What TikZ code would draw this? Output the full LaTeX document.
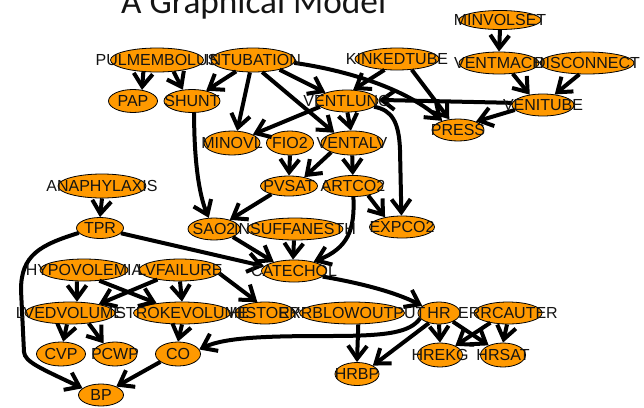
\documentclass[tikz,border=0pt]{standalone}
\usepackage{fontspec}
\setmainfont{Liberation Sans}
\newfontfamily\titlefont{Carlito}
\usetikzlibrary{arrows.meta,shapes.geometric}
\definecolor{nodefill}{RGB}{255,153,0}
\definecolor{ink}{RGB}{20,20,20}
\begin{document}
\begin{tikzpicture}[x=1pt,y=-1pt,
  vnode/.style={ellipse,draw=black,line width=0.8pt,fill=nodefill,inner sep=0pt},
  vtext/.style={font=\fontsize{16}{16}\selectfont,text=ink,inner sep=0pt},
  edge/.style={line width=4pt,draw=black,-{Straight Barb[length=13pt,width=19pt]}},
  ttl/.style={font=\titlefont\fontsize{35.3}{40}\selectfont,text=ink,inner sep=0pt,anchor=base west}
]
\useasboundingbox (0,0) rectangle (644,407);
\clip (0,0) rectangle (644,407);

\node[ttl] (title) at (121,13) {A Graphical Model};

% variables of the network
\node[vnode,minimum width=82pt,minimum height=19pt] (minv)   at (500,20)  {};
\node[vnode,minimum width=93pt,minimum height=24pt] (pulm)   at (157,60)  {};
\node[vnode,minimum width=84pt,minimum height=24pt] (intub)  at (253,60)  {};
\node[vnode,minimum width=84pt,minimum height=22pt] (kinked) at (397,59)  {};
\node[vnode,minimum width=80pt,minimum height=22pt] (vmach)  at (499,63)  {};
\node[vnode,minimum width=94pt,minimum height=22pt] (disc)   at (587,63)  {};
\node[vnode,minimum width=49pt,minimum height=23pt] (pap)    at (133,101) {};
\node[vnode,minimum width=56pt,minimum height=23pt] (shunt)  at (192,101) {};
\node[vnode,minimum width=62pt,minimum height=22pt] (vlung)  at (347,101) {};
\node[vnode,minimum width=62pt,minimum height=22pt] (vtube)  at (543,105) {};
\node[vnode,minimum width=52pt,minimum height=22pt] (press)  at (458,130) {};
\node[vnode,minimum width=56pt,minimum height=24pt] (minvol) at (232,143) {};
\node[vnode,minimum width=47pt,minimum height=24pt] (fio)    at (290,143) {};
\node[vnode,minimum width=62pt,minimum height=24pt] (valv)   at (352,143) {};
\node[vnode,minimum width=88pt,minimum height=24pt] (anaph)  at (102,186) {};
\node[vnode,minimum width=57pt,minimum height=20pt] (pvsat)  at (289,186) {};
\node[vnode,minimum width=60pt,minimum height=21pt] (artco)  at (353,186) {};
\node[vnode,minimum width=47pt,minimum height=21pt] (tpr)    at (100,228) {};
\node[vnode,minimum width=52pt,minimum height=22pt] (sao)    at (214,229) {};
\node[vnode,minimum width=96pt,minimum height=22pt] (insuff) at (295,229) {};
\node[vnode,minimum width=65pt,minimum height=22pt] (expco)  at (402,227) {};
\node[vnode,minimum width=88pt,minimum height=22pt] (hypo)   at (84,270)  {};
\node[vnode,minimum width=82pt,minimum height=22pt] (lvf)    at (180,270) {};
\node[vnode,minimum width=65pt,minimum height=22pt] (cate)   at (294,271) {};
\node[vnode,minimum width=90pt,minimum height=22pt] (lved)   at (70,313)  {};
\node[vnode,minimum width=97pt,minimum height=22pt] (stroke) at (182,313) {};
\node[vnode,minimum width=60pt,minimum height=22pt] (hist)   at (265,313) {};
\node[vnode,minimum width=105pt,minimum height=22pt] (errlow) at (352,313) {};
\node[vnode,minimum width=42pt,minimum height=22pt] (hr)     at (439,313) {};
\node[vnode,minimum width=68pt,minimum height=22pt] (errcau) at (508,313) {};
\node[vnode,minimum width=49pt,minimum height=24pt] (cvp)    at (61,354)  {};
\node[vnode,minimum width=44pt,minimum height=24pt] (pcwp)   at (115,354) {};
\node[vnode,minimum width=45pt,minimum height=24pt] (co)     at (178,354) {};
\node[vnode,minimum width=45pt,minimum height=24pt] (hrekg)  at (440,355) {};
\node[vnode,minimum width=45pt,minimum height=24pt] (hrsat)  at (503,355) {};
\node[vnode,minimum width=45pt,minimum height=22pt] (bp)     at (101,395) {};
\node[vnode,minimum width=44pt,minimum height=23pt] (hrbp)   at (357,374) {};

% dependencies
\draw[edge] (minv.south) -- (vmach.north);
\draw[edge] (vmach.-38) -- (vtube.142);
\draw[edge] (disc.236) -- (vtube.42);
\draw[edge] (vtube.190) -- (press.25);
\draw[edge] (vtube.176) -- (vlung.2);
\draw[edge] (kinked.221) -- (vlung.61);
\draw[edge] (kinked.-36) -- (press.129);
\draw[edge] (intub.-20) -- (vlung.159);
\draw[edge] (intub.214) -- (shunt.36);
\draw[edge] (intub.256) -- (minvol.67);
\draw[edge] (intub.-53) -- (valv.150);
\draw[edge] (intub.-4) .. controls (345,70) and (405,88) .. (press.150);
\draw[edge] (pulm.221) -- (pap.51);
\draw[edge] (pulm.-35) -- (shunt.129);
\draw[edge] (vlung.192) -- (minvol.22);
\draw[edge] (vlung.-88) -- (valv.95);
\draw[edge] (vlung.-12) .. controls (392,110) and (399,122) .. (400,150) -- (expco.93);
\draw[edge] (valv.204) -- (pvsat.30);
\draw[edge] (valv.-89) -- (artco.91);
\draw[edge] (fio.south) -- (pvsat.north);
\draw[edge] (pvsat.205) -- (sao.30);
\draw[edge] (shunt.-80) .. controls (194,160) and (199,195) .. (sao.115);
\draw[edge] (artco.-32) -- (expco.150);
\draw[edge] (artco.-88) .. controls (355,230) and (348,248) .. (cate.25);
\draw[edge] (sao.-23) -- (cate.156);
\draw[edge] (insuff.-95) -- (cate.95);
\draw[edge] (tpr.-14) -- (cate.171);
\draw[edge] (tpr.193) .. controls (40,245) and (21,255) .. (21,290) -- (24,352) .. controls (25,362) and (40,368) .. (bp.160);
\draw[edge] (anaph.south) -- (tpr.north);
\draw[edge] (cate.-11) .. controls (360,283) and (395,292) .. (hr.157);
\draw[edge] (hr.225) -- (hrbp.28);
\draw[edge] (hr.south) -- (hrekg.north);
\draw[edge] (hr.-32) -- (hrsat.146);
\draw[edge] (hr.196) .. controls (410,332) and (390,336) .. (330,336) .. controls (270,336) and (225,337) .. (co.12);
\draw[edge] (errcau.209) -- (hrekg.31);
\draw[edge] (errcau.-95) -- (hrsat.north);
\draw[edge] (errlow.-61) -- (hrbp.north);
\draw[edge] (hypo.238) -- (lved.58);
\draw[edge] (hypo.-35) -- (stroke.159);
\draw[edge] (lvf.203) -- (lved.17);
\draw[edge] (lvf.south) -- (stroke.north);
\draw[edge] (lvf.-5) -- (hist.125);
\draw[edge] (lved.255) -- (cvp.80);
\draw[edge] (lved.-29) -- (pcwp.137);
\draw[edge] (stroke.south) -- (co.north);
\draw[edge] (co.204) -- (bp.29);

% names of the variables
\node[vtext] (minv-t)   at (minv)   {MINVOLSET};
\node[vtext] (pulm-t)   at (pulm)   {PULMEMBOLUS};
\node[vtext] (intub-t)  at (intub)  {INTUBATION};
\node[vtext] (kinked-t) at (kinked) {KINKEDTUBE};
\node[vtext] (vmach-t)  at (vmach)  {VENTMACH};
\node[vtext] (disc-t)   at (disc)   {DISCONNECT};
\node[vtext] (pap-t)    at (pap)    {PAP};
\node[vtext] (shunt-t)  at (shunt)  {SHUNT};
\node[vtext] (vlung-t)  at (vlung)  {VENTLUNG};
\node[vtext] (vtube-t)  at (vtube)  {VENITUBE};
\node[vtext] (press-t)  at (press)  {PRESS};
\node[vtext] (minvol-t) at (minvol) {MINOVL};
\node[vtext] (fio-t)    at (fio)    {FIO2};
\node[vtext] (valv-t)   at (valv)   {VENTALV};
\node[vtext] (anaph-t)  at (anaph)  {ANAPHYLAXIS};
\node[vtext] (pvsat-t)  at (pvsat)  {PVSAT};
\node[vtext] (artco-t)  at (artco)  {ARTCO2};
\node[vtext] (tpr-t)    at (tpr)    {TPR};
\node[vtext] (sao-t)    at (sao)    {SAO2};
\node[vtext] (insuff-t) at (insuff) {INSUFFANESTH};
\node[vtext] (expco-t)  at (expco)  {EXPCO2};
\node[vtext] (hypo-t)   at (hypo)   {HYPOVOLEMIA};
\node[vtext] (lvf-t)    at (lvf)    {LVFAILURE};
\node[vtext] (cate-t)   at (cate)   {CATECHOL};
\node[vtext] (lved-t)   at (lved)   {LVEDVOLUME};
\node[vtext] (stroke-t) at (stroke) {STROKEVOLUME};
\node[vtext] (hist-t)   at (hist)   {HISTORY};
\node[vtext] (errlow-t) at (errlow) {ERRBLOWOUTPUT};
\node[vtext] (hr-t)     at (hr)     {HR};
\node[vtext] (errcau-t) at (errcau) {ERRCAUTER};
\node[vtext] (cvp-t)    at (cvp)    {CVP};
\node[vtext] (pcwp-t)   at (pcwp)   {PCWP};
\node[vtext] (co-t)     at (co)     {CO};
\node[vtext] (hrekg-t)  at (hrekg)  {HREKG};
\node[vtext] (hrsat-t)  at (hrsat)  {HRSAT};
\node[vtext] (bp-t)     at (bp)     {BP};
\node[vtext] (hrbp-t)   at (hrbp)   {HRBP};
\end{tikzpicture}
\end{document}
